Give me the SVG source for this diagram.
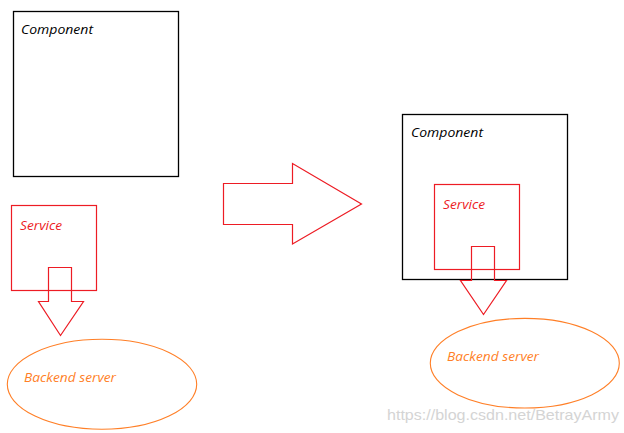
<svg xmlns="http://www.w3.org/2000/svg" width="624" height="433" viewBox="0 0 624 433">
<style>
.comp{fill:none;stroke:#000;stroke-width:1.3}
.red{fill:none;stroke:#ed1c24;stroke-width:1.2}
.org{fill:none;stroke:#ff7f27;stroke-width:1.1}
text{font-family:"Open Sans","Segoe UI","DejaVu Sans",sans-serif;font-style:italic;font-size:12.5px}
.tk{fill:#000}
.tr{fill:#ed1c24}
.to{fill:#ff7f27}
.wm{font-family:"Liberation Sans",Arial,sans-serif;font-style:normal;font-size:15px;fill:#d4d4d4}
</style>
<rect width="624" height="433" fill="#fff"/>
<g id="left-component">
<rect class="comp" x="13.5" y="11.5" width="165" height="165"/>
<text class="tk" x="21" y="34" textLength="72" lengthAdjust="spacingAndGlyphs">Component</text>
</g>
<g id="left-service">
<rect class="red" x="11.5" y="205.5" width="85" height="85"/>
<text class="tr" x="20" y="230" textLength="42" lengthAdjust="spacingAndGlyphs">Service</text>
</g>
<g id="left-backend">
<ellipse class="org" cx="102" cy="384.3" rx="94.7" ry="45"/>
<text class="to" x="24" y="382" textLength="92" lengthAdjust="spacingAndGlyphs">Backend server</text>
</g>
<g id="right-component">
<rect class="comp" x="402.5" y="114.5" width="165" height="165"/>
<text class="tk" x="411" y="137" textLength="72" lengthAdjust="spacingAndGlyphs">Component</text>
</g>
<g id="right-service">
<rect class="red" x="434.5" y="184.5" width="85" height="85"/>
<text class="tr" x="443" y="209" textLength="42" lengthAdjust="spacingAndGlyphs">Service</text>
</g>
<g id="right-backend">
<ellipse class="org" cx="524.8" cy="363.2" rx="94.5" ry="44.8"/>
<text class="to" x="447" y="361" textLength="92" lengthAdjust="spacingAndGlyphs">Backend server</text>
</g>
<g id="connectors">
<polygon class="red" points="48.5,267.5 71.5,267.5 71.5,301.5 83.5,301.5 60.5,335.5 38.5,301.5 48.5,301.5"/>
<polygon class="red" points="223.5,183.5 292.5,183.5 292.5,163.5 361.5,204 292.5,244 292.5,224.5 223.5,224.5"/>
<polygon class="red" points="471.5,246.5 494.5,246.5 494.5,280.5 506.5,280.5 483.5,314.5 460.5,280.5 471.5,280.5"/>
</g>
<text class="wm" x="387" y="420" textLength="232" lengthAdjust="spacingAndGlyphs">https://blog.csdn.net/BetrayArmy</text>
</svg>
